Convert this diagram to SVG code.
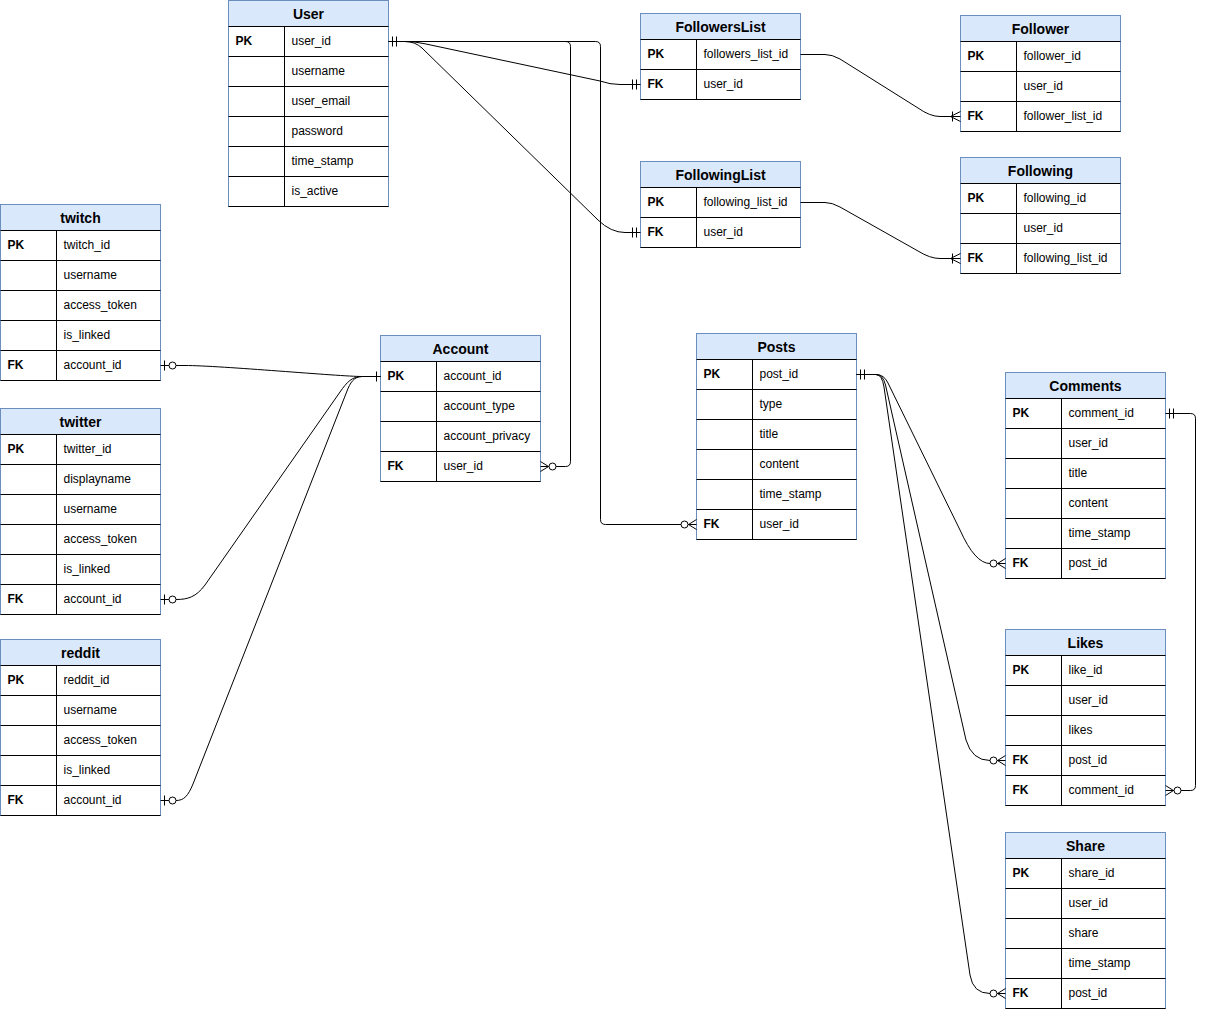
<svg xmlns="http://www.w3.org/2000/svg" xmlns:xlink="http://www.w3.org/1999/xlink" width="1205" height="1009" viewBox="0 0 1205 1009">
<style>
.box{fill:#fff;stroke:#6c8ebf;stroke-width:1}
.hdr{fill:#dae8fc;stroke:#6c8ebf;stroke-width:1}
.sep{stroke:#000;stroke-width:1;fill:none}
text{font-family:"Liberation Sans",Arial,sans-serif;font-size:12px;fill:#000}
.h{font-weight:bold;font-size:14px;text-anchor:middle}
.k{font-weight:bold}
.c{fill:none;stroke:#000;stroke-width:1}
.mk{fill:none;stroke:#000;stroke-width:1}
</style>
<defs>
<g id="m-mo"><path d="M4,-5V5M8,-5V5"/></g>
<g id="m-one"><path d="M4,-5V5"/></g>
<g id="m-zo"><path d="M4,-5V5"/><circle cx="12" cy="0" r="3.5" fill="#fff"/></g>
<g id="m-zm"><path d="M0,-5L8,0L0,5"/><circle cx="12" cy="0" r="3.5" fill="#fff"/></g>
<g id="m-om"><path d="M0,-5L10,0L0,5M8,-5V5"/></g>
</defs>

<g id="tbl-user" transform="translate(228.5,0.5)">
<rect class="box" x="0" y="0" width="160" height="206"/>
<rect class="hdr" x="0" y="0" width="160" height="26"/>
<path class="sep" d="M0,26H160M0,56H160M0,86H160M0,116H160M0,146H160M0,176H160M0,206H160M56,26V206"/>
<text class="h" x="80" y="18">User</text>
<text class="k" x="7" y="44">PK</text><text x="63" y="44">user_id</text>
<text x="63" y="74">username</text>
<text x="63" y="104">user_email</text>
<text x="63" y="134">password</text>
<text x="63" y="164">time_stamp</text>
<text x="63" y="194">is_active</text>
</g>

<g id="tbl-twitch" transform="translate(0.5,204.5)">
<rect class="box" x="0" y="0" width="160" height="176"/>
<rect class="hdr" x="0" y="0" width="160" height="26"/>
<path class="sep" d="M0,26H160M0,56H160M0,86H160M0,116H160M0,146H160M0,176H160M56,26V176"/>
<text class="h" x="80" y="18">twitch</text>
<text class="k" x="7" y="44">PK</text><text x="63" y="44">twitch_id</text>
<text x="63" y="74">username</text>
<text x="63" y="104">access_token</text>
<text x="63" y="134">is_linked</text>
<text class="k" x="7" y="164">FK</text><text x="63" y="164">account_id</text>
</g>

<g id="tbl-twitter" transform="translate(0.5,408.5)">
<rect class="box" x="0" y="0" width="160" height="206"/>
<rect class="hdr" x="0" y="0" width="160" height="26"/>
<path class="sep" d="M0,26H160M0,56H160M0,86H160M0,116H160M0,146H160M0,176H160M0,206H160M56,26V206"/>
<text class="h" x="80" y="18">twitter</text>
<text class="k" x="7" y="44">PK</text><text x="63" y="44">twitter_id</text>
<text x="63" y="74">displayname</text>
<text x="63" y="104">username</text>
<text x="63" y="134">access_token</text>
<text x="63" y="164">is_linked</text>
<text class="k" x="7" y="194">FK</text><text x="63" y="194">account_id</text>
</g>

<g id="tbl-reddit" transform="translate(0.5,639.5)">
<rect class="box" x="0" y="0" width="160" height="176"/>
<rect class="hdr" x="0" y="0" width="160" height="26"/>
<path class="sep" d="M0,26H160M0,56H160M0,86H160M0,116H160M0,146H160M0,176H160M56,26V176"/>
<text class="h" x="80" y="18">reddit</text>
<text class="k" x="7" y="44">PK</text><text x="63" y="44">reddit_id</text>
<text x="63" y="74">username</text>
<text x="63" y="104">access_token</text>
<text x="63" y="134">is_linked</text>
<text class="k" x="7" y="164">FK</text><text x="63" y="164">account_id</text>
</g>

<g id="tbl-account" transform="translate(380.5,335.5)">
<rect class="box" x="0" y="0" width="160" height="146"/>
<rect class="hdr" x="0" y="0" width="160" height="26"/>
<path class="sep" d="M0,26H160M0,56H160M0,86H160M0,116H160M0,146H160M56,26V146"/>
<text class="h" x="80" y="18">Account</text>
<text class="k" x="7" y="44">PK</text><text x="63" y="44">account_id</text>
<text x="63" y="74">account_type</text>
<text x="63" y="104">account_privacy</text>
<text class="k" x="7" y="134">FK</text><text x="63" y="134">user_id</text>
</g>

<g id="tbl-followerslist" transform="translate(640.5,13.5)">
<rect class="box" x="0" y="0" width="160" height="86"/>
<rect class="hdr" x="0" y="0" width="160" height="26"/>
<path class="sep" d="M0,26H160M0,56H160M0,86H160M56,26V86"/>
<text class="h" x="80" y="18">FollowersList</text>
<text class="k" x="7" y="44">PK</text><text x="63" y="44">followers_list_id</text>
<text class="k" x="7" y="74">FK</text><text x="63" y="74">user_id</text>
</g>

<g id="tbl-followinglist" transform="translate(640.5,161.5)">
<rect class="box" x="0" y="0" width="160" height="86"/>
<rect class="hdr" x="0" y="0" width="160" height="26"/>
<path class="sep" d="M0,26H160M0,56H160M0,86H160M56,26V86"/>
<text class="h" x="80" y="18">FollowingList</text>
<text class="k" x="7" y="44">PK</text><text x="63" y="44">following_list_id</text>
<text class="k" x="7" y="74">FK</text><text x="63" y="74">user_id</text>
</g>

<g id="tbl-follower" transform="translate(960.5,15.5)">
<rect class="box" x="0" y="0" width="160" height="116"/>
<rect class="hdr" x="0" y="0" width="160" height="26"/>
<path class="sep" d="M0,26H160M0,56H160M0,86H160M0,116H160M56,26V116"/>
<text class="h" x="80" y="18">Follower</text>
<text class="k" x="7" y="44">PK</text><text x="63" y="44">follower_id</text>
<text x="63" y="74">user_id</text>
<text class="k" x="7" y="104">FK</text><text x="63" y="104">follower_list_id</text>
</g>

<g id="tbl-following" transform="translate(960.5,157.5)">
<rect class="box" x="0" y="0" width="160" height="116"/>
<rect class="hdr" x="0" y="0" width="160" height="26"/>
<path class="sep" d="M0,26H160M0,56H160M0,86H160M0,116H160M56,26V116"/>
<text class="h" x="80" y="18">Following</text>
<text class="k" x="7" y="44">PK</text><text x="63" y="44">following_id</text>
<text x="63" y="74">user_id</text>
<text class="k" x="7" y="104">FK</text><text x="63" y="104">following_list_id</text>
</g>

<g id="tbl-posts" transform="translate(696.5,333.5)">
<rect class="box" x="0" y="0" width="160" height="206"/>
<rect class="hdr" x="0" y="0" width="160" height="26"/>
<path class="sep" d="M0,26H160M0,56H160M0,86H160M0,116H160M0,146H160M0,176H160M0,206H160M56,26V206"/>
<text class="h" x="80" y="18">Posts</text>
<text class="k" x="7" y="44">PK</text><text x="63" y="44">post_id</text>
<text x="63" y="74">type</text>
<text x="63" y="104">title</text>
<text x="63" y="134">content</text>
<text x="63" y="164">time_stamp</text>
<text class="k" x="7" y="194">FK</text><text x="63" y="194">user_id</text>
</g>

<g id="tbl-comments" transform="translate(1005.5,372.5)">
<rect class="box" x="0" y="0" width="160" height="206"/>
<rect class="hdr" x="0" y="0" width="160" height="26"/>
<path class="sep" d="M0,26H160M0,56H160M0,86H160M0,116H160M0,146H160M0,176H160M0,206H160M56,26V206"/>
<text class="h" x="80" y="18">Comments</text>
<text class="k" x="7" y="44">PK</text><text x="63" y="44">comment_id</text>
<text x="63" y="74">user_id</text>
<text x="63" y="104">title</text>
<text x="63" y="134">content</text>
<text x="63" y="164">time_stamp</text>
<text class="k" x="7" y="194">FK</text><text x="63" y="194">post_id</text>
</g>

<g id="tbl-likes" transform="translate(1005.5,629.5)">
<rect class="box" x="0" y="0" width="160" height="176"/>
<rect class="hdr" x="0" y="0" width="160" height="26"/>
<path class="sep" d="M0,26H160M0,56H160M0,86H160M0,116H160M0,146H160M0,176H160M56,26V176"/>
<text class="h" x="80" y="18">Likes</text>
<text class="k" x="7" y="44">PK</text><text x="63" y="44">like_id</text>
<text x="63" y="74">user_id</text>
<text x="63" y="104">likes</text>
<text class="k" x="7" y="134">FK</text><text x="63" y="134">post_id</text>
<text class="k" x="7" y="164">FK</text><text x="63" y="164">comment_id</text>
</g>

<g id="tbl-share" transform="translate(1005.5,832.5)">
<rect class="box" x="0" y="0" width="160" height="176"/>
<rect class="hdr" x="0" y="0" width="160" height="26"/>
<path class="sep" d="M0,26H160M0,56H160M0,86H160M0,116H160M0,146H160M0,176H160M56,26V176"/>
<text class="h" x="80" y="18">Share</text>
<text class="k" x="7" y="44">PK</text><text x="63" y="44">share_id</text>
<text x="63" y="74">user_id</text>
<text x="63" y="104">share</text>
<text x="63" y="134">time_stamp</text>
<text class="k" x="7" y="164">FK</text><text x="63" y="164">post_id</text>
</g>

<g id="connectors">
<path class="c" d="M388.5,41.5 L405,41.5 Q415,41.5 425,43.8 L600,81 Q610,84.5 620,84.5 L640.5,84.5"/>
<path class="c" d="M388.5,41.5 L405,41.5 Q415,41.5 422,48 L598,220 Q611,232.5 625,232.5 L640.5,232.5"/>
<path class="c" d="M388.5,41.5 H565.5 Q570.5,41.5 570.5,46.5 V461.5 Q570.5,466.5 565.5,466.5 H540.5"/>
<path class="c" d="M388.5,41.5 H595.5 Q600.5,41.5 600.5,46.5 V519.5 Q600.5,524.5 605.5,524.5 H696.5"/>
<path class="c" d="M380.5,376.5 H362 C340,376.5 220,365.5 185,365.5 H160.5"/>
<path class="c" d="M380.5,376.5 H362 C352,376.5 347,382 340,392 L205,585 C196,597 188,599.5 176,599.5 H160.5"/>
<path class="c" d="M380.5,376.5 H362 C354,376.5 350,383 347,391 L193,784 C188,796 184,800.5 176,800.5 H160.5"/>
<path class="c" d="M800.5,54.5 H825 Q832,54.5 840,59 L918,108 Q930,116.5 940,116.5 H960.5"/>
<path class="c" d="M800.5,202.5 H825 Q832,202.5 840,207 L918,251 Q930,258.5 940,258.5 H960.5"/>
<path class="c" d="M856.5,374.5 H876 Q884,374.5 888,383 L960,530 Q975,563.5 990,563.5 H1005.5"/>
<path class="c" d="M856.5,374.5 H876 Q883,374.5 885.5,385 L966,740 Q972,760.5 990,760.5 H1005.5"/>
<path class="c" d="M856.5,374.5 H876 Q882,374.5 884,387 L970,975 Q973,993.5 990,993.5 H1005.5"/>
<path class="c" d="M1165.5,413.5 H1190.5 Q1195.5,413.5 1195.5,418.5 V785.5 Q1195.5,790.5 1190.5,790.5 H1165.5"/>

<use class="mk" xlink:href="#m-mo" transform="translate(388.5,41.5)"/>
<use class="mk" xlink:href="#m-mo" transform="translate(640.5,84.5) scale(-1,1)"/>
<use class="mk" xlink:href="#m-mo" transform="translate(640.5,232.5) scale(-1,1)"/>
<use class="mk" xlink:href="#m-zm" transform="translate(540.5,466.5)"/>
<use class="mk" xlink:href="#m-zm" transform="translate(696.5,524.5) scale(-1,1)"/>
<use class="mk" xlink:href="#m-one" transform="translate(380.5,376.5) scale(-1,1)"/>
<use class="mk" xlink:href="#m-zo" transform="translate(160.5,365.5)"/>
<use class="mk" xlink:href="#m-zo" transform="translate(160.5,599.5)"/>
<use class="mk" xlink:href="#m-zo" transform="translate(160.5,800.5)"/>
<use class="mk" xlink:href="#m-om" transform="translate(960.5,116.5) scale(-1,1)"/>
<use class="mk" xlink:href="#m-om" transform="translate(960.5,258.5) scale(-1,1)"/>
<use class="mk" xlink:href="#m-mo" transform="translate(856.5,374.5)"/>
<use class="mk" xlink:href="#m-zm" transform="translate(1005.5,563.5) scale(-1,1)"/>
<use class="mk" xlink:href="#m-zm" transform="translate(1005.5,760.5) scale(-1,1)"/>
<use class="mk" xlink:href="#m-zm" transform="translate(1005.5,993.5) scale(-1,1)"/>
<use class="mk" xlink:href="#m-mo" transform="translate(1165.5,413.5)"/>
<use class="mk" xlink:href="#m-zm" transform="translate(1165.5,790.5)"/>
</g>
</svg>
